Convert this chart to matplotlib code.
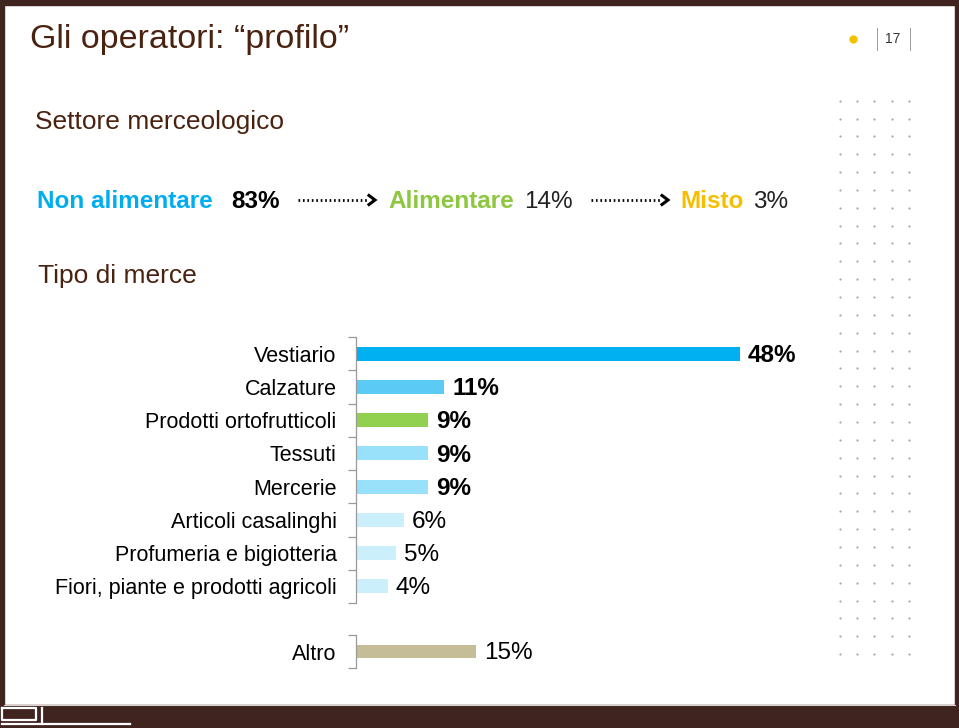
import matplotlib
matplotlib.use("Agg")
import matplotlib.pyplot as plt
from matplotlib.lines import Line2D
from matplotlib.patches import Rectangle

# ---------------- data ----------------
categories = ["Vestiario", "Calzature", "Prodotti ortofrutticoli", "Tessuti",
              "Mercerie", "Articoli casalinghi", "Profumeria e bigiotteria",
              "Fiori, piante e prodotti agricoli"]
values = [48, 11, 9, 9, 9, 6, 5, 4]
bar_colors = ["#00B0F0", "#5BCBF5", "#92D050", "#99E0FA", "#99E0FA",
              "#CCEFFC", "#CCEFFC", "#CCEFFC"]
bold_labels = [True, True, True, True, True, False, False, False]

other_category = ["Altro"]
other_value = [15]
other_color = "#C4BD97"

sector_names = ["Non alimentare", "Alimentare", "Misto"]
sector_values = [83, 14, 3]

title = "Gli operatori: \u201cprofilo\u201d"
page_number = "17"

# ---------------- figure ----------------
W, H = 959, 728
fig = plt.figure(figsize=(W / 100, H / 100), dpi=100)
plt.rcParams['font.family'] = ['Liberation Sans', 'DejaVu Sans']

BROWN = "#3F2420"
TXT_BROWN = "#4A2210"


def fx(x):
    return x / W


def fy(y):
    return 1 - y / H


# frame
fig.add_artist(Rectangle((0, 0), fx(4), 1, transform=fig.transFigure, color=BROWN, zorder=0))
fig.add_artist(Rectangle((fx(955), 0), fx(4), 1, transform=fig.transFigure, color=BROWN, zorder=0))
fig.add_artist(Rectangle((0, fy(5)), 1, 5 / H, transform=fig.transFigure, color=BROWN, zorder=0))
fig.add_artist(Rectangle((0, 0), 1, fy(705), transform=fig.transFigure, color=BROWN, zorder=0))
fig.add_artist(Line2D([fx(4), fx(955)], [fy(704.5), fy(704.5)], color="#D8CFCB", lw=0.8))
# logo in band
lw_logo = 1.6
fig.add_artist(Line2D([fx(2), fx(36), fx(36), fx(2), fx(2)],
                      [fy(708), fy(708), fy(720), fy(720), fy(708)], color="white", lw=lw_logo))
fig.add_artist(Line2D([fx(42), fx(42), fx(130)], [fy(708), fy(724), fy(724)], color="white", lw=lw_logo))
fig.add_artist(Line2D([fx(2), fx(42)], [fy(724), fy(724)], color="white", lw=lw_logo))

# title & page number
fig.text(fx(30), fy(48), title, fontsize=24.5, color=TXT_BROWN, va="baseline", ha="left")
fig.add_artist(Line2D([fx(853)], [fy(39)], marker="o", ms=6, color="#F2C200", mec="none"))
fig.add_artist(Line2D([fx(877), fx(877)], [fy(28), fy(50)], color="#999999", lw=0.7))
fig.add_artist(Line2D([fx(910), fx(910)], [fy(28), fy(50)], color="#999999", lw=0.7))
fig.text(fx(893), fy(39), page_number, fontsize=10, color="#333333", va="center", ha="center")

# dot pattern
dot_x = [840 + 17.2 * i for i in range(5)]
dot_y = [100.7 + 17.85 * j for j in range(32)]
xs, ys = [], []
for yy in dot_y:
    for xx in dot_x:
        xs.append(fx(xx))
        ys.append(fy(yy))
fig.add_artist(Line2D(xs, ys, ls="none", marker="o", ms=1.6, color="#A8A8A8", mec="none"))

# section headings
fig.text(fx(35), fy(128.5), "Settore merceologico", fontsize=19, color=TXT_BROWN, va="baseline")
fig.text(fx(38), fy(283), "Tipo di merce", fontsize=19, color=TXT_BROWN, va="baseline")

# sector row
row_y = fy(207.5)
fs_row = 17.5
kw = dict(fontsize=fs_row, va="baseline")
fig.text(fx(37), row_y, sector_names[0], color="#00AEEF", weight="bold", **kw)
fig.text(fx(231), row_y, f"{sector_values[0]}%", color="black", weight="bold", **kw)
fig.text(fx(388), row_y, sector_names[1], color="#8DC63F", weight="bold", **kw)
fig.text(fx(524), row_y, f"{sector_values[1]}%", color="#222222", **kw)
fig.text(fx(680), row_y, sector_names[2], color="#F5BE00", weight="bold", **kw)
fig.text(fx(753), row_y, f"{sector_values[2]}%", color="#222222", **kw)


def dotted_arrow(x0, x1, y):
    fig.add_artist(Line2D([fx(x0), fx(x1 - 6)], [fy(y), fy(y)], color="black",
                          lw=2.0, ls=(0, (0.6, 1.0)), dash_capstyle="butt"))
    fig.add_artist(Line2D([fx(x1 - 6), fx(x1), fx(x1 - 6)], [fy(y - 4.5), fy(y), fy(y + 4.5)],
                          color="black", lw=2.2, solid_joinstyle="miter"))


dotted_arrow(298, 375, 200)
dotted_arrow(591, 668, 200)

# ---------------- bar chart ----------------
PX_PER_UNIT = 8.0
ax_left, ax_right = 356, 836
xmax = (ax_right - ax_left) / PX_PER_UNIT

top, bottom = 337, 603
ax = fig.add_axes([fx(ax_left), fy(bottom), (ax_right - ax_left) / W, (bottom - top) / H])
n = len(categories)
pos = list(range(n))
ax.barh(pos, values, height=0.42, color=bar_colors, edgecolor="none")
ax.set_xlim(0, xmax)
ax.set_ylim(n - 0.5, -0.5)

ax2 = fig.add_axes([fx(ax_left), fy(668), (ax_right - ax_left) / W, 33 / H])
ax2.barh([0], other_value, height=0.42, color=other_color, edgecolor="none")
ax2.set_xlim(0, xmax)
ax2.set_ylim(0.5, -0.5)

label_fs = 15.5
pct_fs = 17.5
for a, cats, vals, bolds in [(ax, categories, values, bold_labels),
                             (ax2, other_category, other_value, [False])]:
    for s in ["top", "right", "bottom"]:
        a.spines[s].set_visible(False)
    a.spines["left"].set_color("#9A9A9A")
    a.spines["left"].set_linewidth(0.9)
    a.set_xticks([])
    a.set_yticks(range(len(cats)))
    a.set_yticklabels(cats, fontsize=label_fs, color="black")
    a.tick_params(axis="y", which="major", length=0, pad=14)
    a.set_yticks([i - 0.5 for i in range(len(cats) + 1)], minor=True)
    a.tick_params(axis="y", which="minor", length=6, width=0.9, color="#9A9A9A", direction="out")
    a.patch.set_alpha(0)
    for i, (v, b) in enumerate(zip(vals, bolds)):
        a.text(v + 1.0, i + 0.05, f"{v}%", fontsize=pct_fs, va="center", ha="left",
               weight="bold" if b else "normal", color="black")

fig.savefig("out.png", dpi=100)
